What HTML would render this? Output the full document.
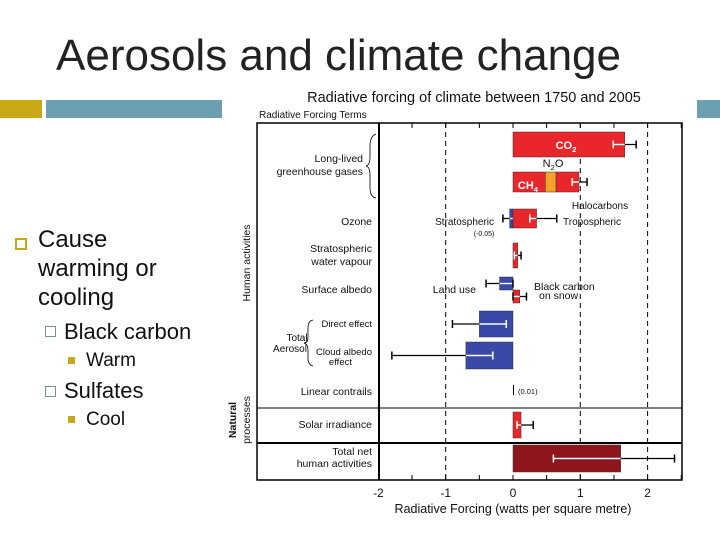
<!DOCTYPE html>
<html><head><meta charset="utf-8"><style>
body{margin:0;width:720px;height:540px;background:#fff;overflow:hidden;font-family:"Liberation Sans",sans-serif;position:relative}
.abs{position:absolute}
</style></head><body>
<div class="abs" style="left:56px;top:31px;font-size:44px;color:#222;white-space:nowrap">Aerosols and climate change</div>
<div class="abs" style="left:0;top:100px;width:42px;height:18px;background:#c9a815"></div>
<div class="abs" style="left:46px;top:100px;width:176px;height:18px;background:#6c9fb1"></div>
<div class="abs" style="left:697px;top:100px;width:23px;height:18px;background:#6c9fb1"></div>
<div class="abs" style="left:0;top:0;color:#111">
<div class="abs" style="left:15px;top:238px;width:8px;height:8px;border:2px solid #c9a815"></div>
<div class="abs" style="left:38px;top:225px;font-size:24px;line-height:29px;width:200px">Cause<br>warming or<br>cooling</div>
<div class="abs" style="left:45px;top:326px;width:9px;height:9px;border:1px solid #7a8f9a"></div>
<div class="abs" style="left:64px;top:319px;font-size:22px;white-space:nowrap">Black carbon</div>
<div class="abs" style="left:68px;top:357px;width:7px;height:7px;background:#c9a815"></div>
<div class="abs" style="left:86px;top:350px;font-size:19px">Warm</div>
<div class="abs" style="left:45px;top:386px;width:9px;height:9px;border:1px solid #7a8f9a"></div>
<div class="abs" style="left:64px;top:378px;font-size:22px">Sulfates</div>
<div class="abs" style="left:68px;top:416px;width:7px;height:7px;background:#c9a815"></div>
<div class="abs" style="left:86px;top:409px;font-size:19px">Cool</div>
</div>
<svg class="abs" style="left:0;top:0" width="720" height="540" font-family="Liberation Sans, sans-serif">
<g id="chart"></g>
</svg>
<script>
const labels=["CO2","CH4","N2O","Halocarbons","Strat ozone","Trop ozone","Strat water vapour","Land use","BC on snow","Direct effect","Cloud albedo","Linear contrails","Solar irradiance","Total net"];
const starts=[0,0,0.48,0.64,-0.05,0,0,-0.2,0,-0.5,-0.7,0,0,0];
const values=[1.66,0.48,0.16,0.34,0.05,0.35,0.07,0.2,0.1,0.5,0.7,0.01,0.12,1.6];
const errLo=[1.49,null,null,0.88,-0.15,0.25,0.02,-0.4,0,-0.9,-1.8,null,0.06,0.6];
const errHi=[1.83,null,null,1.1,0.05,0.65,0.12,0,0.2,-0.1,-0.3,null,0.3,2.4];
const rowTop=[132,172,172,172,209,209,243,277,290,311,342,385,412,445];
const rowH=[25,20,20,20,19,19,25,13,13,26,27,10,26,27];
const colors=["#e8262b","#e8262b","#f5a12b","#e8262b","#3a48a8","#e8262b","#e8262b","#3a48a8","#e8262b","#3a48a8","#3a48a8","#000","#e8262b","#8e151b"];
const ticks=[-2,-1,0,1,2];
const NS="http://www.w3.org/2000/svg";
const g=document.getElementById("chart");
const X=v=>513+v*67.3;
function el(t,a,p){const e=document.createElementNS(NS,t);for(const k in a)e.setAttribute(k,a[k]);(p||g).appendChild(e);return e;}
function txt(x,y,s,size,anchor,name,w,fill){const e=el("text",{x:x,y:y,"font-size":size||10.5,"text-anchor":anchor||"end",fill:fill||"#111"});if(w)e.setAttribute("font-weight",w);e.textContent=s;

return e;}
function sub(x,y,a,b,c,size,anchor,name,fill,w){const e=txt(x,y,a,size,anchor,name,w,fill);const t=el("tspan",{dy:3,"font-size":size*0.7},e);t.textContent=b;if(c){const t2=el("tspan",{dy:-3},e);t2.textContent=c;}return e;}
txt(474,102,"Radiative forcing of climate between 1750 and 2005",14.5,"middle","chart-title");
txt(259,118,"Radiative Forcing Terms",10,"start","terms-header");
const fr=el("rect",{x:257,y:123,width:425,height:357,fill:"none",stroke:"#000","stroke-width":1.5});

el("line",{x1:379,y1:123,x2:379,y2:480,stroke:"#000","stroke-width":2});
el("line",{x1:257,y1:408,x2:682,y2:408,stroke:"#000","stroke-width":1});
el("line",{x1:257,y1:443,x2:682,y2:443,stroke:"#000","stroke-width":2});
ticks.forEach(t=>{
 if(t!==-2&&t!==0){const l=el("line",{x1:X(t),y1:123,x2:X(t),y2:480,stroke:"#000","stroke-dasharray":"5,4"});
 }
 txt(X(t),497,String(t),12,"middle","x-tick-label");
});
for(let t=-1.5;t<=2.5;t+=0.5){el("line",{x1:X(t),y1:123,x2:X(t),y2:128,stroke:"#000"});el("line",{x1:X(t),y1:475,x2:X(t),y2:480,stroke:"#000"});}
txt(513,513,"Radiative Forcing  (watts per square metre)",12.5,"middle","x-axis-title");
labels.forEach((n,i)=>{
 const x0=X(starts[i]),x1=X(starts[i]+values[i]);
 const bl=Math.min(x0,x1),br=Math.max(x0,x1);
 const r=el("rect",{x:bl,y:rowTop[i],width:Math.max(br-bl,1),height:rowH[i],fill:colors[i],stroke:i===11?"none":"#333","stroke-width":0.5});
 
 
 if(errLo[i]!==null){const y=rowTop[i]+rowH[i]/2;const a=X(errLo[i]),b=X(errHi[i]);
  const e=el("line",{x1:a,y1:y,x2:b,y2:y,stroke:"#000","stroke-width":1.3});
  
  const ca=(a>bl&&a<br)?"#fff":"#000",cb=(b>bl&&b<br)?"#fff":"#000";
  const ol=Math.max(a,bl),or=Math.min(b,br);
  if(or>ol)el("line",{x1:ol,y1:y,x2:or,y2:y,stroke:"#fff","stroke-width":1.5});
  el("line",{x1:a,y1:y-4,x2:a,y2:y+4,stroke:ca,"stroke-width":1.5});
  el("line",{x1:b,y1:y-4,x2:b,y2:y+4,stroke:cb,"stroke-width":1.5});}
});
txt(363,162,"Long-lived",10.5);txt(363,175,"greenhouse gases",10.5);
txt(372,225,"Ozone",10.5);txt(372,252,"Stratospheric",10.5);txt(372,265,"water vapour",10.5);
txt(372,293,"Surface albedo",10.5);txt(372,327,"Direct effect",9.5);txt(372,355,"Cloud albedo",9.5);txt(352,365,"effect",9.5);
txt(297,341,"Total",10,"middle");txt(290,352,"Aerosol",10,"middle");
txt(372,395,"Linear contrails",10.5);txt(372,428,"Solar irradiance",10.5);txt(372,455,"Total net",10.5);txt(372,467,"human activities",10.5);
sub(566,149,"CO","2","",11,"middle","co2-label","#fff","bold");
sub(553,167,"N","2","O",11,"middle","n2o-label","#111");
sub(528,189,"CH","4","",11,"middle","ch4-label","#fff","bold");
txt(600,209,"Halocarbons",10,"middle");
txt(494,225,"Stratospheric",10);txt(563,225,"Tropospheric",10,"start");txt(484,236,"(-0.05)",7,"middle");
txt(476,293,"Land use",10.5);txt(534,290,"Black carbon",10.5,"start");txt(539,299,"on snow",10.5,"start");
txt(518,394,"(0.01)",7.5,"start");
el("path",{d:"M376,134 Q370,136 370,146 L370,157 Q370,165 366,166 Q370,167 370,175 L370,188 Q370,197 376,198",fill:"none",stroke:"#000","stroke-width":0.8});
el("path",{d:"M313,320 Q308,321 308,328 L308,337 Q308,343 304,343 Q308,344 308,350 L308,358 Q308,365 313,366",fill:"none",stroke:"#000","stroke-width":0.8});
const s1=txt(0,0,"Human activities",10.5,"middle","human-activities-label");s1.setAttribute("transform","translate(250,263) rotate(-90)");
const s2=txt(0,0,"Natural",10.5,"middle","natural-label","bold");s2.setAttribute("transform","translate(236,420) rotate(-90)");
const s3=txt(0,0,"processes",10.5,"middle","processes-label");s3.setAttribute("transform","translate(250,420) rotate(-90)");
</script>
</body></html>
